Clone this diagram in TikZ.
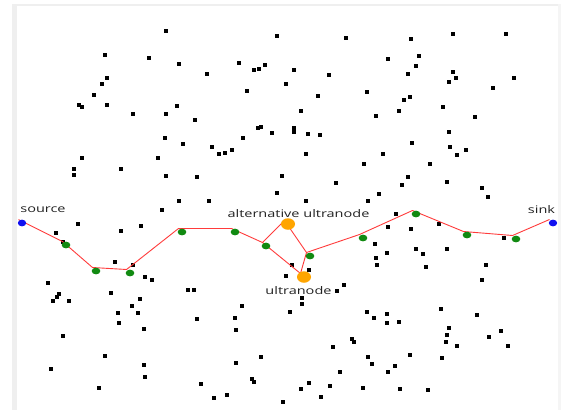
\documentclass[tikz,border=0pt]{standalone}
\usepackage{fontspec}
\setmainfont{Open Sans}
\usetikzlibrary{shapes.geometric}
\definecolor{pathred}{HTML}{FF3B3B}
\definecolor{relaygreen}{HTML}{118A11}
\definecolor{ultraorange}{HTML}{FFA500}
\definecolor{endblue}{HTML}{1010F0}
\definecolor{labelgray}{HTML}{222222}
\definecolor{framegray}{HTML}{EFEFEF}
\begin{document}
\begin{tikzpicture}[x=1pt,y=-1pt,
  dotnode/.style={ellipse,inner sep=0pt,draw=none},
  relay/.style={dotnode,fill=relaygreen,minimum width=8.6pt,minimum height=6.8pt},
  ultra/.style={dotnode,fill=ultraorange,minimum width=14pt,minimum height=11.5pt},
  endpt/.style={dotnode,fill=endblue,minimum width=8.4pt,minimum height=6.8pt},
  link/.style={draw=pathred,line width=0.9pt},
  lbl/.style={text=labelgray,font=\fontsize{10.5}{12}\selectfont,inner sep=0pt}]
\useasboundingbox (0,0) rectangle (563,410);
\fill[white] (0,0) rectangle (563,410);
% light frame along the left, top and right edges
\fill[framegray] (12,3.5) rectangle (17,410);
\fill[framegray] (12,3.5) rectangle (560.5,6);
\fill[framegray!60] (558,3.5) rectangle (560.5,410);

% scattered sensor nodes
\foreach \x/\y in {
 166/31,105/55,149/58,179/64,107/78,102/84,94/95,79/105,82/107,107/105,133/114,166/114,177/106,165/138,
 277/36,346/38,239/63,207/74,254/70,259/69,265/65,294/70,329/75,286/84,247/91,318/96,367/92,301/111,195/120,376/116,
 258/128,261/127,272/133,294/128,294/132,308/134,320/135,243/138,
 453/34,506/34,411/39,388/59,419/56,416/66,408/74,453/72,456/78,449/82,514/78,493/88,410/97,404/100,399/111,443/107,475/117,449/132,
 183/144,82/158,158/158,74/169,74/175,121/169,166/176,179/201,162/210,78/224,56/233,121/231,141/226,115/262,133/265,63/242,
 212/147,219/154,225/153,232/150,306/154,364/164,197/177,282/176,336/183,277/193,209/201,306/201,368/201,292/265,309/270,
 412/143,383/154,450/147,457/155,466/150,430/164,408/177,402/185,447/182,482/188,488/197,379/194,396/214,388/227,411/229,439/224,
 375/244,387/253,376/258,377/265,416/249,423/254,447/249,426/267,486/265,504/238,
 145/277,152/280,48/283,59/294,57/297,53/301,69/301,111/293,140/299,132/306,118/313,138/313,119/323,144/329,188/290,194/290,
 63/336,105/356,144/365,51/369,145/377,99/388,
 286/276,344/285,337/291,302/298,302/304,242/306,290/312,197/319,235/318,236/330,367/312,374/318,352/339,354/342,333/347,
 261/357,236/363,368/357,372/364,340/372,252/379,254/382,201/384,309/383,330/386,301/389,363/388,227/395,214/398,321/397,283/402,
 482/280,441/309,477/315,387/314,387/323,399/322,449/328,447/335,446/342,457/346,501/331,489/337,508/346,410/355,395/366,388/372,
 442/358,400/389,428/390}
  \fill ({\x-2.3},{\y-1.8}) rectangle ++(4.6,3.6);

% route vertices
\coordinate (src) at (18.5,219.5);
\coordinate (g1) at (62.5,241.5);
\coordinate (g2) at (92.5,267.5);
\coordinate (g3) at (126.5,269.5);
\coordinate (g4) at (178.5,228.5);
\coordinate (g5) at (231.5,228.5);
\coordinate (g6) at (262.5,242.5);
\coordinate (alt) at (284.5,220.5);
\coordinate (ult) at (300.5,273.5);
\coordinate (g7) at (306.5,252.5);
\coordinate (g8) at (359.5,234.5);
\coordinate (g9) at (412.5,210.5);
\coordinate (g10) at (463.5,231.5);
\coordinate (g11) at (512.5,235.5);
\coordinate (snk) at (549.5,219.5);

% route
\draw[link] (src) -- (g1) -- (g2) -- (g3) -- (g4) -- (g5) -- (g6) -- (alt) -- (g7)
  -- (g8) -- (g9) -- (g10) -- (g11) -- (snk);
\draw[link] (g6) -- (ult) -- (g7);

% route markers
\foreach \v in {g1,g2,g3,g4,g5,g6,g7,g8,g9,g10,g11}
  \node[relay] (\v-dot) at ([shift={(3.5,3.5)}]\v) {};
\node[ultra] (alt-dot) at ([shift={(3.5,3.5)}]alt) {};
\node[ultra] (ult-dot) at ([shift={(3.5,3.5)}]ult) {};
\node[endpt] (src-dot) at ([shift={(3.5,3.5)}]src) {};
\node[endpt] (snk-dot) at ([shift={(3.5,3.5)}]snk) {};

% labels
\node[lbl] (src-lbl) at (43,210) {\scalebox{1.38}[1]{source}};
\node[lbl] (snk-lbl) at (541.5,210) {\scalebox{1.38}[1]{sink}};
\node[lbl] (alt-lbl) at (298.5,214) {\scalebox{1.38}[1]{alternative ultranode}};
\node[lbl] (ult-lbl) at (298.5,291) {\scalebox{1.38}[1]{ultranode}};
\end{tikzpicture}
\end{document}
